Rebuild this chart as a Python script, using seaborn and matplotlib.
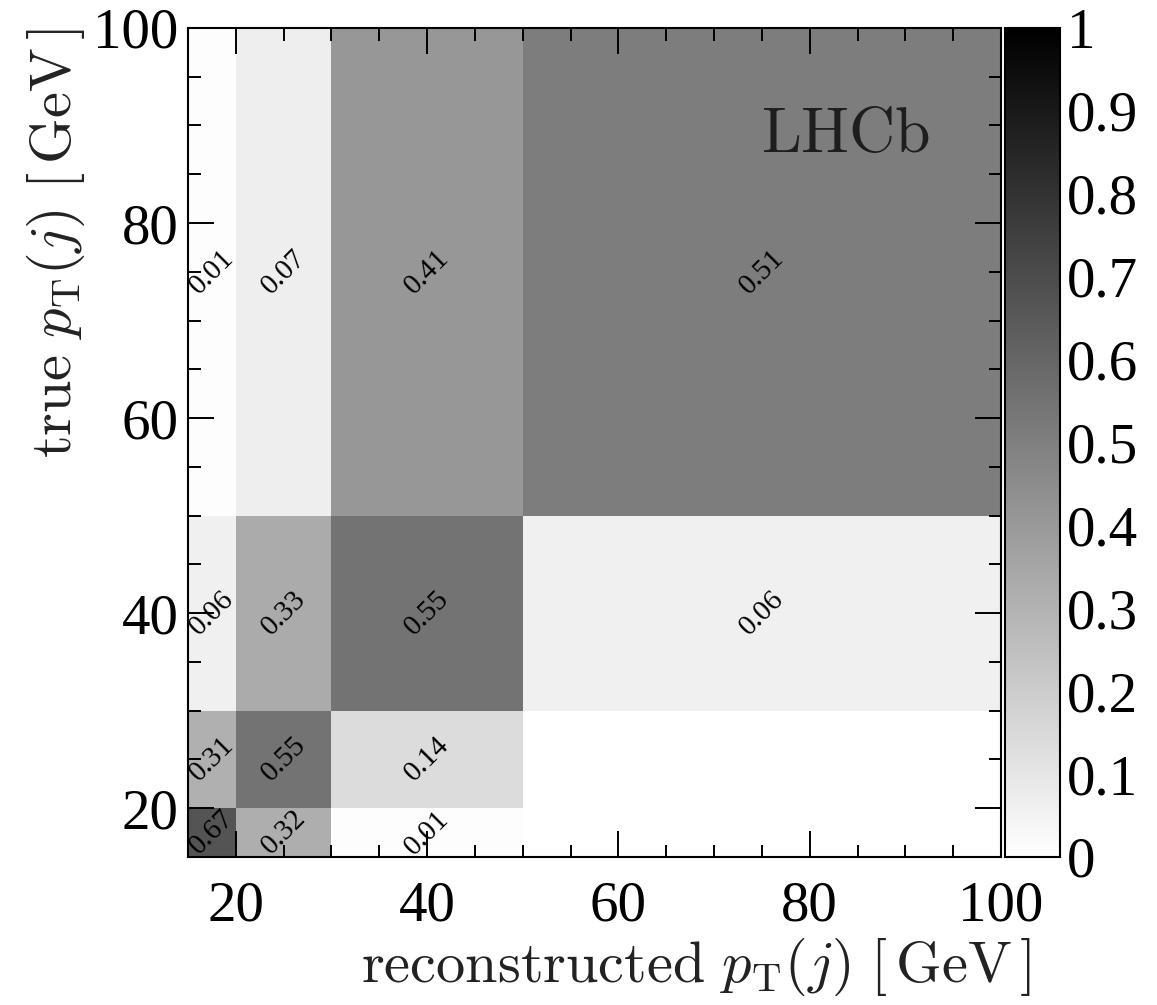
import numpy as np
import pandas as pd
import matplotlib
matplotlib.use("Agg")
import matplotlib.pyplot as plt
from matplotlib.ticker import MultipleLocator, FixedLocator, FuncFormatter
import seaborn as sns

# Bin edges of the jet pT unfolding matrix [GeV]
reco_edges = [15, 20, 30, 50, 100]
true_edges = [15, 20, 30, 50, 100]

# Migration fractions, one list per true-pT bin (ordered by reconstructed-pT bin)
frac_true_15_20 = [0.67, 0.32, 0.01, 0.00]
frac_true_20_30 = [0.31, 0.55, 0.14, 0.00]
frac_true_30_50 = [0.06, 0.33, 0.55, 0.06]
frac_true_50_100 = [0.01, 0.07, 0.41, 0.51]

x_ticks = [20, 40, 60, 80, 100]
y_ticks = [20, 40, 60, 80, 100]
cbar_ticks = [0.0, 0.1, 0.2, 0.3, 0.4, 0.5, 0.6, 0.7, 0.8, 0.9, 1.0]

rows = [frac_true_15_20, frac_true_20_30, frac_true_30_50, frac_true_50_100]
reco_centers = [(a + b) / 2 for a, b in zip(reco_edges[:-1], reco_edges[1:])]
true_centers = [(a + b) / 2 for a, b in zip(true_edges[:-1], true_edges[1:])]

records = []
for yc, row in zip(true_centers, rows):
    for xc, v in zip(reco_centers, row):
        records.append({"reco": xc, "true": yc, "frac": v})
df = pd.DataFrame(records)

sns.set_style("ticks")
serif = ["Liberation Serif", "DejaVu Serif"]
plt.rcParams["font.family"] = serif
plt.rcParams["mathtext.fontset"] = "cm"

fig = plt.figure(figsize=(11.57, 10.05), dpi=100)
ax = fig.add_axes([0.1625, 0.1473, 0.7027, 0.8249])
cax = fig.add_axes([0.8686, 0.1473, 0.0475, 0.8249])

sns.histplot(
    data=df, x="reco", y="true", weights="frac",
    bins=[reco_edges, true_edges], cmap="gray_r",
    cbar=True, cbar_ax=cax, ax=ax,
)
mesh = ax.collections[0]
mesh.set_clim(0, 1)
ax.set_axisbelow(False)

ax.set_xlim(reco_edges[0], reco_edges[-1])
ax.set_ylim(true_edges[0], true_edges[-1])

# Value labels in each populated cell
for yc, row in zip(true_centers, rows):
    for xc, v in zip(reco_centers, row):
        if v > 0:
            ax.text(xc, yc, f"{v:.2f}", rotation=45, rotation_mode="anchor",
                    ha="center", va="center", fontsize=21, color="black",
                    family=serif)

ax.text(92.6, 87.3, r"$\mathrm{LHCb}$", ha="right", va="baseline",
        fontsize=46, color="#1e1e1e")

# Axes ticks: inward on all four sides
ax.xaxis.set_major_locator(FixedLocator(x_ticks))
ax.yaxis.set_major_locator(FixedLocator(y_ticks))
ax.xaxis.set_minor_locator(MultipleLocator(5))
ax.yaxis.set_minor_locator(MultipleLocator(5))
ax.tick_params(which="both", direction="in", top=True, right=True,
               width=1.4, color="black", labelcolor="black")
ax.tick_params(which="major", length=19)
ax.tick_params(which="minor", length=9)
ax.tick_params(axis="x", which="major", labelsize=41, pad=17)
ax.tick_params(axis="y", which="major", labelsize=41, pad=7)
for s in ax.spines.values():
    s.set_linewidth(1.5)
    s.set_color("black")

ax.set_xlabel(r"$\mathrm{reconstructed}\ p_{\mathrm{T}}(j)\ [\,\mathrm{GeV}\,]$",
              fontsize=42, color="#222222", loc="right", va="center")
ax.xaxis.set_label_coords(1.036, -0.133)
ax.set_ylabel(r"$\mathrm{true}\ p_{\mathrm{T}}(j)\ [\,\mathrm{GeV}\,]$",
              fontsize=42, color="#222222", loc="top", va="center")
ax.yaxis.set_label_coords(-0.162, 1.0)

# Colour scale
cb = mesh.colorbar
cb.set_ticks(cbar_ticks)
cb.ax.yaxis.set_major_formatter(FuncFormatter(lambda v, p: f"{v:g}"))
cb.minorticks_off()
cax.tick_params(direction="in", length=19, width=1.4, labelsize=41, pad=5,
                color="black", labelcolor="black")
cb.outline.set_linewidth(1.5)
cb.outline.set_edgecolor("black")

fig.savefig("out.png", dpi=100)
